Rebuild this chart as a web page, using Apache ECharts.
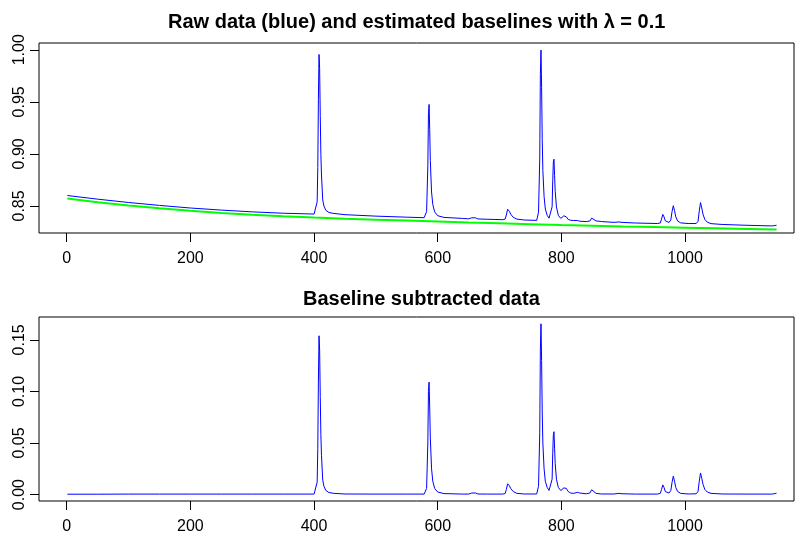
<!DOCTYPE html>
<html>
<head>
<meta charset="utf-8">
<script src="https://cdn.jsdelivr.net/npm/echarts@6/dist/echarts.min.js"></script>
<style>
html,body{margin:0;padding:0;background:#fff;}
#c{width:797px;height:535px;}
</style>
</head>
<body>
<div id="c"></div>
<script>
// ---- data ----
const titleTop = "Raw data (blue) and estimated baselines with \u03bb = 0.1";
const titleBottom = "Baseline subtracted data";

const xTicks = [0, 200, 400, 600, 800, 1000];
const yTicksTop = [0.85, 0.90, 0.95, 1.00];
const yTicksBottom = [0.00, 0.05, 0.10, 0.15];

// sample positions (index) for the raw / subtracted spectra
const xs = [1,50,100,150,200,250,300,350,400,403,405,406,407,408,409,410,411,412,414,416,419,424,432,450,500,550,
  578,580,582,584,585,586,587,588,590,592,595,600,610,640,650,655,658,661,665,680,705,709,711,713,714,716,718,722,728,740,760,
  761,763,765,766,767,768,769,770,772,774,777,780,783,785,786,787,788,789,790,792,795,799,802,804,806,808,811,815,820,823,826,830,840,
  846,849,852,856,865,885,893,898,920,955,960,962,964,966,968,971,974,977,979,981,983,985,988,993,1005,1018,1021,1023,1025,1027,1029,
  1032,1036,1042,1060,1100,1140,1144,1146,1148];

// raw data (blue, top panel)
const rawVals = [0.8600,0.8565,0.8533,0.8505,0.8480,0.8460,0.8443,0.8430,0.8422,0.8430,0.8540,0.8870,0.9520,0.9955,0.9818,0.9368,0.8997,0.8797,0.8558,0.8498,0.8458,0.8437,0.8428,0.8416,0.8402,0.8392,
  0.8387,0.8393,0.8445,0.8885,0.9385,0.9475,0.9235,0.8935,0.8634,0.8514,0.8443,0.8406,0.8390,0.8380,0.8376,0.8386,0.8381,0.8386,0.8375,0.8372,0.8368,0.8373,0.8413,0.8468,0.8473,0.8447,0.8421,0.8391,0.8373,0.8365,0.8361,
  0.8368,0.8440,0.8960,0.9760,0.9997,0.9640,0.9140,0.8840,0.8590,0.8470,0.8410,0.8382,0.8392,0.8492,0.8742,0.8922,0.8949,0.8790,0.8640,0.8490,0.8410,0.8380,0.8380,0.8405,0.8413,0.8395,0.8370,0.8362,0.8360,0.8358,0.8360,0.8353,0.8350,
  0.8355,0.8383,0.8372,0.8356,0.8350,0.8342,0.8346,0.8342,0.8336,0.8331,0.8336,0.8375,0.8418,0.8395,0.8358,0.8342,0.8341,0.8366,0.8447,0.8502,0.8455,0.8395,0.8355,0.8337,0.8331,0.8331,0.8352,0.8452,0.8532,0.8481,0.8420,
  0.8370,0.8344,0.8330,0.8322,0.8314,0.8308,0.8310,0.8318,0.8315];

// baseline subtracted data (blue, bottom panel)
const subVals = [0.0004,0.0004,0.0005,0.0005,0.0005,0.0005,0.0005,0.0005,0.0005,0.0010,0.0120,0.0450,0.1100,0.1540,0.1400,0.0950,0.0580,0.0380,0.0140,0.0080,0.0040,0.0020,0.0012,0.0006,0.0005,0.0005,
  0.0005,0.0010,0.0060,0.0500,0.1000,0.1090,0.0850,0.0550,0.0250,0.0130,0.0060,0.0025,0.0010,0.0005,0.0005,0.0015,0.0010,0.0016,0.0006,0.0005,0.0005,0.0010,0.0050,0.0105,0.0110,0.0085,0.0060,0.0030,0.0012,0.0006,0.0006,
  0.0010,0.0080,0.0600,0.1400,0.1656,0.1300,0.0800,0.0500,0.0250,0.0130,0.0070,0.0040,0.0050,0.0150,0.0400,0.0580,0.0610,0.0450,0.0300,0.0150,0.0070,0.0040,0.0040,0.0065,0.0078,0.0060,0.0030,0.0015,0.0012,0.0020,0.0022,0.0015,0.0008,
  0.0015,0.0047,0.0030,0.0012,0.0006,0.0006,0.0012,0.0008,0.0005,0.0005,0.0012,0.0050,0.0094,0.0070,0.0030,0.0015,0.0015,0.0040,0.0120,0.0178,0.0130,0.0070,0.0030,0.0012,0.0006,0.0008,0.0030,0.0130,0.0210,0.0160,0.0100,
  0.0050,0.0025,0.0012,0.0006,0.0005,0.0005,0.0008,0.0016,0.0014];

// estimated baseline (green)
const baseX = [1,50,100,150,200,250,300,350,400,450,500,550,600,650,700,750,800,850,900,950,1000,1050,1100,1148];
const baseVals = [0.8571,0.8536,0.8504,0.8477,0.8453,0.8433,0.8416,0.8401,0.8388,0.8377,0.8368,0.8359,0.8350,0.8341,0.8333,0.8325,0.8317,0.8310,0.8303,0.8297,0.8291,0.8285,0.8279,0.8273];

// ---- chart ----
const FONT = "'Liberation Sans', Arial, Helvetica, sans-serif";
const pair = (xa, ya) => xa.map((x, i) => [x, ya[i]]);

const xMin = -44.88, xMax = 1176.2;

function xAxisDef(gi) {
  return {
    type: 'value', gridIndex: gi, min: xMin, max: xMax, position: 'bottom',
    axisLine: {show: false, onZero: false},
    splitLine: {show: false},
    axisTick: {show: true, length: 9, customValues: xTicks, lineStyle: {color: '#000', width: 1}},
    axisLabel: {show: true, customValues: xTicks, color: '#000', fontSize: 16, fontFamily: FONT, margin: 18,
      formatter: v => String(Math.round(v))}
  };
}
function yAxisDef(gi, mn, mx, ticks) {
  return {
    type: 'value', gridIndex: gi, min: mn, max: mx, position: 'left',
    axisLine: {show: false, onZero: false},
    splitLine: {show: false},
    axisTick: {show: true, length: 9, customValues: ticks, lineStyle: {color: '#000', width: 1}},
    axisLabel: {show: true, customValues: ticks, rotate: 90, color: '#000', fontSize: 16, fontFamily: FONT, margin: 11,
      formatter: v => v.toFixed(2)}
  };
}

const chart = echarts.init(document.getElementById('c'), null, {renderer: 'canvas'});
chart.setOption({
  animation: false,
  backgroundColor: '#fff',
  grid: [
    {left: 39, top: 43, width: 755, height: 190, show: true, borderColor: '#000', borderWidth: 1, backgroundColor: 'transparent'},
    {left: 39, top: 317, width: 755, height: 190, show: true, borderColor: '#000', borderWidth: 1, backgroundColor: 'transparent'}
  ],
  xAxis: [xAxisDef(0), xAxisDef(1)],
  yAxis: [
    yAxisDef(0, 0.8240, 1.0065, yTicksTop),
    yAxisDef(1, -0.0062, 0.1722, yTicksBottom)
  ],
  graphic: [
    {type: 'text', left: 418 - 250, top: 12, style: {text: titleTop, fill: '#000', font: 'bold 20px ' + FONT}, z: 10},
    {type: 'text', left: 421 - 118, top: 289, style: {text: titleBottom, fill: '#000', font: 'bold 20px ' + FONT}, z: 10}
  ],
  series: [
    {type: 'line', xAxisIndex: 0, yAxisIndex: 0, data: pair(xs, rawVals), showSymbol: false, symbol: 'none',
      lineStyle: {color: '#0000FF', width: 1}, z: 2},
    {type: 'line', xAxisIndex: 0, yAxisIndex: 0, data: pair(baseX, baseVals), showSymbol: false, symbol: 'none',
      lineStyle: {color: '#00FF00', width: 2}, z: 3},
    {type: 'line', xAxisIndex: 1, yAxisIndex: 1, data: pair(xs, subVals), showSymbol: false, symbol: 'none',
      lineStyle: {color: '#0000FF', width: 1}, z: 2}
  ]
});
</script>
</body>
</html>
